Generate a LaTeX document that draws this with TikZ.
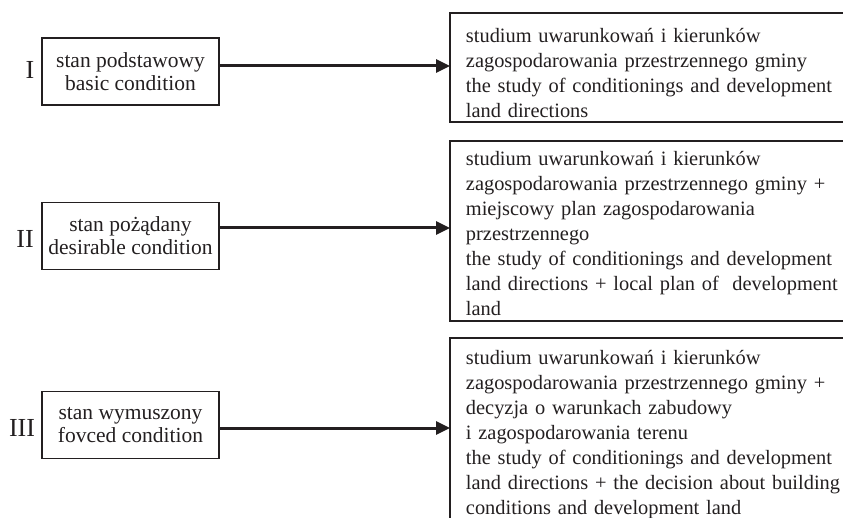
\documentclass[tikz,border=0pt]{standalone}
\usepackage{fontspec}
\setmainfont{Liberation Serif}
\usetikzlibrary{arrows.meta}
\definecolor{ink}{HTML}{231F20}
\tikzset{
  state/.style={draw=ink, line width=1.6pt, minimum width=177pt, minimum height=67pt, inner sep=0pt, align=center, font=\fontsize{21.5}{23}\selectfont, text=ink},
  result/.style={draw=ink, line width=1.9pt, anchor=north west, minimum width=440pt, text width=408pt, inner xsep=15.5pt, inner ysep=0pt, align=left, font=\fontsize{20.4}{25}\selectfont, text=ink},
  roman/.style={font=\fontsize{26}{26}\selectfont, text=ink, inner sep=0pt},
  link/.style={draw=ink, line width=3pt, -{Triangle[length=14pt,width=13pt]}, shorten >=-1pt}
}
\begin{document}
\begin{tikzpicture}[x=1pt,y=-1pt]
\useasboundingbox (0,0) rectangle (843,518);
\clip (0,0) rectangle (843,518);
\node[state] (s1) at (130.5,71.5) {stan podstawowy\\basic condition};
\node[state] (s2) at (130.5,236) {stan pożądany\\desirable condition};
\node[state] (s3) at (130.5,425) {stan wymuszony\\fovced condition};
\node[roman] (r1) at (30,70) {I};
\node[roman] (r2) at (25,238.5) {II};
\node[roman] (r3) at (22,428) {III};
\node[result, minimum height=109pt] (b1) at (449,12) {\rule{0pt}{25pt}studium uwarunkowań i kierunków\\zagospodarowania przestrzennego gminy\\the study of conditionings and development\\land directions};
\node[result, minimum height=180pt] (b2) at (449,140) {\rule{0pt}{20pt}studium uwarunkowań i kierunków\\zagospodarowania przestrzennego gminy +\\miejscowy plan zagospodarowania\\przestrzennego\\the study of conditionings and development\\land directions + local plan of\ \ development\\land};
\node[result, minimum height=190pt] (b3) at (449,337) {\rule{0pt}{18pt}studium uwarunkowań i kierunków\\zagospodarowania przestrzennego gminy +\\decyzja o warunkach zabudowy\\i zagospodarowania terenu\\the study of conditionings and development\\land directions + the decision about building\\conditions and development land};
\draw[link] (s1.east) ++(0,-5.5) coordinate (a1) -- (a1 -| b1.west);
\draw[link] (s2.east) ++(0,-8) coordinate (a2) -- (a2 -| b2.west);
\draw[link] (s3.east) ++(0,3) coordinate (a3) -- (a3 -| b3.west);
\end{tikzpicture}
\end{document}
